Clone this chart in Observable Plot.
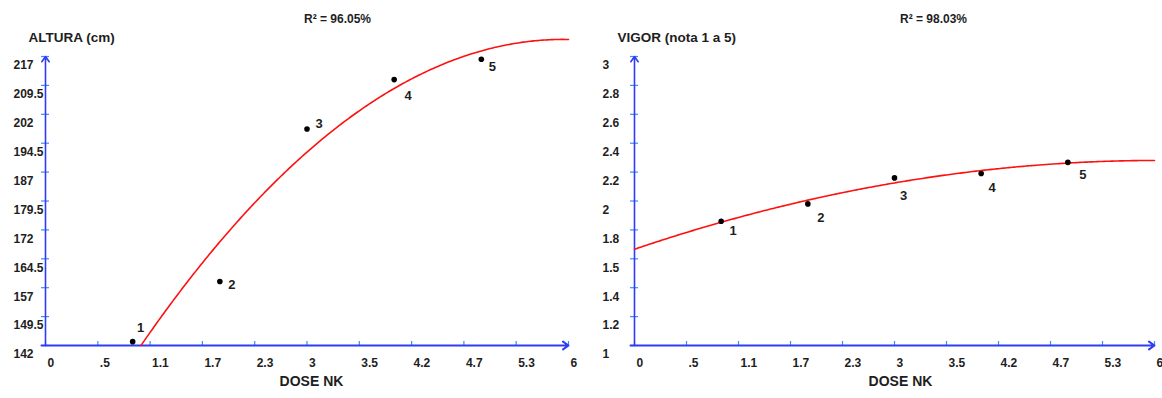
<!DOCTYPE html>
<html>
<head>
<meta charset="utf-8">
<script src="https://cdn.jsdelivr.net/npm/d3@7"></script>
<script src="https://cdn.jsdelivr.net/npm/@observablehq/plot@0.6"></script>
<style>
  html, body { margin: 0; padding: 0; background: #fff; }
  #charts { display: flex; width: 1162px; height: 398px; overflow: hidden; }
  #charts svg { display: block; flex: none; }
</style>
</head>
<body>
<div id="charts"></div>
<script>
// NK dose levels and the observed treatment means
const doses = [1, 2, 3, 4, 5];
const pointLabels = ["1", "2", "3", "4", "5"];
const altura = [143.0, 158.6, 198.2, 211.0, 216.3];
const vigor = [1.86, 1.98, 2.16, 2.19, 2.267];

// Axis ticks and the labels printed beside them
const xTicks = [0, 0.6, 1.2, 1.8, 2.4, 3, 3.6, 4.2, 4.8, 5.4, 6];
const xTickLabels = ["0", ".5", "1.1", "1.7", "2.3", "3", "3.5", "4.2", "4.7", "5.3", "6"];
const alturaTicks = [142, 149.5, 157, 164.5, 172, 179.5, 187, 194.5, 202, 209.5, 217];
const alturaTickLabels = ["142", "149.5", "157", "164.5", "172", "179.5", "187", "194.5", "202", "209.5", "217"];
const vigorTicks = [1, 1.2, 1.4, 1.6, 1.8, 2, 2.2, 2.4, 2.6, 2.8, 3];
const vigorTickLabels = ["1", "1.2", "1.4", "1.5", "1.8", "2", "2.2", "2.4", "2.6", "2.8", "3"];

// Texts
const xTitle = "DOSE NK";
const alturaTitle = "ALTURA (cm)";
const vigorTitle = "VIGOR (nota 1 a 5)";
const alturaR2 = "R² = 96.05%";
const vigorR2 = "R² = 98.03%";

// Offsets (px) of each point's number from its dot
const alturaLabelNudge = [[8, -14], [12, 3], [12, -5], [14, 16], [11, 8]];
const vigorLabelNudge = [[12, 10], [13, 14], [9, 18], [11, 14], [15, 12]];

const AXIS_BLUE = "#2f3cf5";
const TICK_BLUE = "#3a8cff";
const INK = "#1e1e1e";
const FONT = "'Liberation Sans', Arial, Helvetica, sans-serif";

// Least-squares quadratic y = a + b·x + c·x² through the observed means
function quadFit(xs, ys) {
  const S = k => d3.sum(xs, x => x ** k);
  const T = k => d3.sum(xs, (x, i) => x ** k * ys[i]);
  const M = [[xs.length, S(1), S(2)], [S(1), S(2), S(3)], [S(2), S(3), S(4)]];
  const B = [T(0), T(1), T(2)];
  const det = m =>
    m[0][0] * (m[1][1] * m[2][2] - m[1][2] * m[2][1]) -
    m[0][1] * (m[1][0] * m[2][2] - m[1][2] * m[2][0]) +
    m[0][2] * (m[1][0] * m[2][1] - m[1][1] * m[2][0]);
  const D = det(M);
  return [0, 1, 2].map(j => det(M.map((row, r) => row.map((v, c) => (c === j ? B[r] : v)))) / D);
}

function trendCurve(ys, yMin) {
  const [a, b, c] = quadFit(doses, ys);
  const f = x => a + b * x + c * x * x;
  const pts = d3.range(0, 6.0001, 0.02).map(x => ({x, y: f(x)})).filter(p => p.y >= yMin);
  if (f(0) < yMin) {
    // where the fitted curve rises through the bottom of the y axis
    const disc = Math.sqrt(b * b - 4 * c * (a - yMin));
    const roots = [(-b + disc) / (2 * c), (-b - disc) / (2 * c)].filter(x => x >= 0 && x <= 6);
    pts.unshift({x: d3.min(roots), y: yMin});
  }
  return pts;
}

function panel({values, yTicks, yTickLabels, title, r2, r2Offset, nudges, marginLeft, marginRight}) {
  const yMin = yTicks[0], yMax = yTicks[yTicks.length - 1];
  const curve = trendCurve(values, yMin);
  const points = doses.map((d, i) => ({x: d, y: values[i], label: pointLabels[i]}));
  const textStyle = {fill: INK, fontWeight: "bold", fontFamily: FONT};

  return Plot.plot({
    width: 581,
    height: 398,
    marginLeft,
    marginRight,
    marginTop: 56,
    marginBottom: 53,
    x: {domain: [0, 6]},
    y: {domain: [yMin, yMax]},
    style: {fontFamily: FONT, fontSize: "12px", background: "#fff", color: INK},
    marks: [
      // tick marks
      Plot.axisX(xTicks, {tickSize: 4, dy: -4, tickFormat: () => "", label: null, stroke: TICK_BLUE, strokeWidth: 1.2}),
      Plot.axisY(yTicks, {tickSize: 8, dx: 4, tickFormat: () => "", label: null, stroke: TICK_BLUE, strokeWidth: 1.2}),
      // tick labels
      Plot.axisX(xTicks, {
        tickSize: 0, tickPadding: 13, textAnchor: "start", dx: 2, label: null,
        tickFormat: d => xTickLabels[xTicks.indexOf(d)], ...textStyle, fontSize: 12
      }),
      Plot.axisY(yTicks, {
        tickSize: 0, tickPadding: 32, textAnchor: "start", dy: 9, label: null,
        tickFormat: d => yTickLabels[yTicks.indexOf(d)], ...textStyle, fontSize: 12
      }),
      // axis lines with arrowheads
      Plot.arrow([yMin], {
        x1: 0, x2: 6, y1: d => d, y2: d => d, stroke: AXIS_BLUE, strokeWidth: 2,
        headLength: 5, headAngle: 70, insetStart: -4
      }),
      Plot.arrow([0], {
        x1: d => d, x2: d => d, y1: yMin, y2: yMax, stroke: AXIS_BLUE, strokeWidth: 1.6,
        headLength: 6, headAngle: 70
      }),
      // fitted quadratic trend
      Plot.line(curve, {x: "x", y: "y", stroke: "#ff1010", strokeWidth: 1.6}),
      // observed means
      Plot.dot(points, {x: "x", y: "y", r: 2.8, fill: "#000"}),
      ...points.map((p, i) =>
        Plot.text([p], {
          x: "x", y: "y", text: "label", dx: nudges[i][0], dy: nudges[i][1],
          ...textStyle, fontSize: 13
        })
      ),
      // titles
      Plot.text([title], {
        frameAnchor: "top-left", dx: -17, dy: -19, lineAnchor: "middle", textAnchor: "start",
        ...textStyle, fontSize: 13.5
      }),
      Plot.text([r2], {
        frameAnchor: "top-left", dx: r2Offset, dy: -37, lineAnchor: "middle", textAnchor: "middle",
        ...textStyle, fontSize: 12
      }),
      Plot.text([xTitle], {
        frameAnchor: "bottom-left", dx: 266, dy: 36, lineAnchor: "middle", textAnchor: "middle",
        ...textStyle, fontSize: 14
      })
    ]
  });
}

const host = document.getElementById("charts");
host.append(panel({
  values: altura, yTicks: alturaTicks, yTickLabels: alturaTickLabels,
  title: alturaTitle, r2: alturaR2, r2Offset: 292, nudges: alturaLabelNudge,
  marginLeft: 45, marginRight: 13
}));
host.append(panel({
  values: vigor, yTicks: vigorTicks, yTickLabels: vigorTickLabels,
  title: vigorTitle, r2: vigorR2, r2Offset: 299, nudges: vigorLabelNudge,
  marginLeft: 53, marginRight: 8
}));
</script>
</body>
</html>
